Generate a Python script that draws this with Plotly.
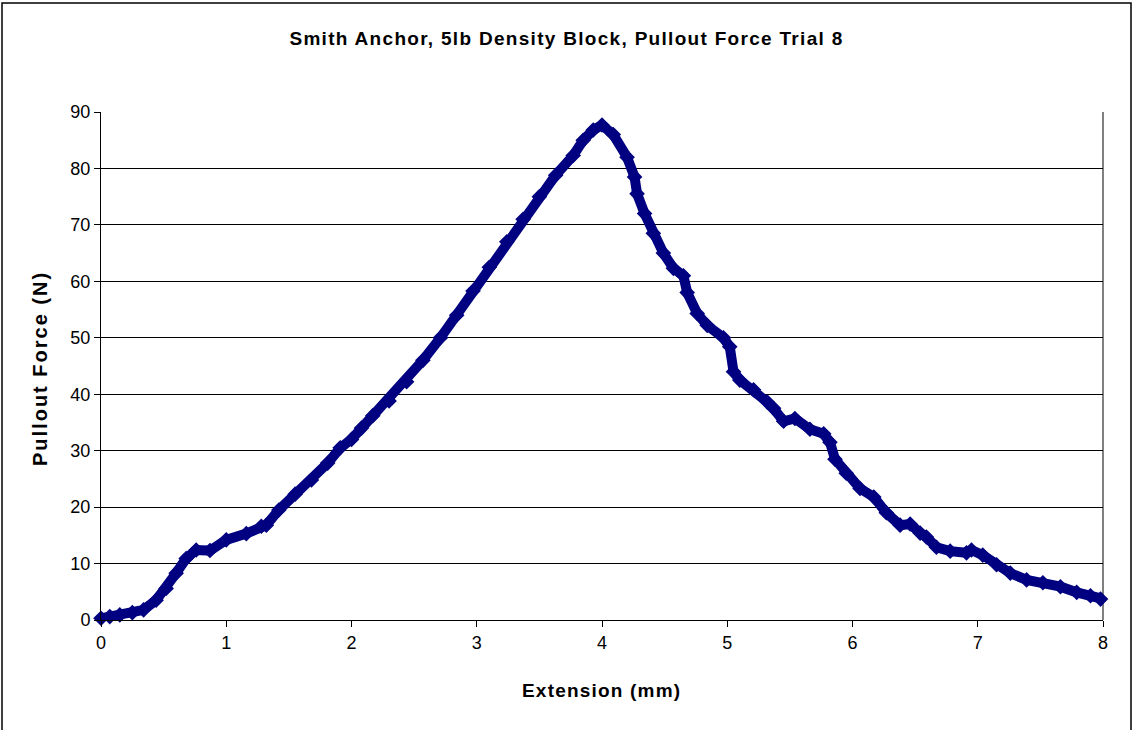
import plotly.graph_objects as go

# extension (mm) and pullout force (N)
extension = [0, 0.07, 0.15, 0.25, 0.34, 0.44, 0.52, 0.6, 0.68, 0.76, 0.87, 1.0,
             1.16, 1.28, 1.32, 1.42, 1.55, 1.68, 1.81, 1.91, 2.0, 2.08, 2.17, 2.3,
             2.44, 2.57, 2.71, 2.84, 2.97, 3.1, 3.24, 3.37, 3.5, 3.63, 3.77, 3.85,
             3.93, 4.0, 4.09, 4.2, 4.26, 4.28, 4.34, 4.41, 4.49, 4.57, 4.65, 4.68,
             4.76, 4.84, 4.97, 5.02, 5.05, 5.1, 5.21, 5.32, 5.37, 5.45, 5.54, 5.66,
             5.77, 5.82, 5.86, 5.95, 6.06, 6.17, 6.27, 6.38, 6.46, 6.54, 6.59, 6.67,
             6.78, 6.91, 6.95, 7.04, 7.15, 7.26, 7.39, 7.52, 7.66, 7.79, 7.9, 7.98, 8.04]
force = [0.3, 0.6, 0.9, 1.3, 1.8, 3.5, 5.6, 8.3, 10.9, 12.4, 12.3, 14.2,
         15.3, 16.6, 16.8, 19.5, 22.3, 24.8, 27.8, 30.5, 32.0, 34.0, 36.2, 38.8,
         42.2, 46.0, 50.0, 54.0, 58.3, 62.5, 67.0, 71.0, 75.0, 78.8, 82.3, 85.0,
         86.8, 87.7, 86.0, 82.0, 78.5, 75.5, 72.0, 68.5, 65.0, 62.3, 61.0, 58.0,
         54.3, 52.2, 50.0, 48.4, 44.0, 42.5, 40.8, 38.6, 37.5, 35.2, 35.7, 33.8,
         33.0, 31.5, 28.5, 26.0, 23.3, 21.8, 19.0, 16.8, 17.0, 15.4, 14.7, 12.9,
         12.2, 11.9, 12.4, 11.5, 9.8, 8.3, 7.1, 6.6, 5.9, 4.9, 4.3, 3.7, 3.5]

x_ticks = [0, 1, 2, 3, 4, 5, 6, 7, 8]
y_ticks = [0, 10, 20, 30, 40, 50, 60, 70, 80, 90]

navy = "#000080"
font = "Liberation Sans, Arial, sans-serif"


def spaced(text, px):
    return f"<span style='letter-spacing:{px}px'><b>{text}</b></span>"


fig = go.Figure()
fig.add_trace(go.Scatter(
    x=extension, y=force, mode="lines+markers",
    line=dict(color=navy, width=10),
    marker=dict(symbol="diamond", size=12, color=navy),
    showlegend=False, cliponaxis=False,
))

W, H = 1133, 730
ml, mr, mt, mb = 101, 30, 112, 110
pw, ph = W - ml - mr, H - mt - mb

fig.update_layout(
    width=W, height=H,
    margin=dict(l=ml, r=mr, t=mt, b=mb),
    paper_bgcolor="white", plot_bgcolor="white",
    font=dict(family=font, size=18, color="black"),
    title=dict(text=spaced("Smith Anchor, 5lb Density Block, Pullout Force Trial 8", 1.3),
               x=0.5, xanchor="center", y=1 - 38 / H, yanchor="middle",
               font=dict(size=19)),
    xaxis=dict(range=[0, 8], tickvals=x_ticks, showgrid=False, zeroline=False,
               showline=True, linecolor="black", linewidth=1,
               ticks="outside", ticklen=6, tickcolor="black",
               tickfont=dict(size=18)),
    yaxis=dict(range=[0, 90], tickvals=y_ticks, showgrid=True, gridcolor="black",
               gridwidth=1, zeroline=False,
               showline=True, linecolor="black", linewidth=1,
               ticks="outside", ticklen=6, tickcolor="black",
               tickfont=dict(size=18)),
)

# axis titles placed like the original
fig.add_annotation(text=spaced("Extension (mm)", 1.2), xref="paper", yref="paper",
                   x=(601 - ml) / pw, y=-(690 - (H - mb)) / ph, showarrow=False,
                   xanchor="center", yanchor="middle", font=dict(size=19))
fig.add_annotation(text=spaced("Pullout Force (N)", 2.0), xref="paper", yref="paper",
                   x=-(ml - 40) / pw, y=(H - mb - 369) / ph, showarrow=False, textangle=-90,
                   xanchor="center", yanchor="middle", font=dict(size=20))

# gray plot-area edge on the right, outer chart border
fig.add_shape(type="line", xref="paper", yref="paper", x0=1, x1=1, y0=0, y1=1,
              line=dict(color="#808080", width=2), layer="below")
fig.add_shape(type="rect", xref="paper", yref="paper",
              x0=(2 - ml) / pw, x1=(W - 2 - ml) / pw,
              y0=-(mb + 20) / ph, y1=1 + (mt - 3) / ph,
              line=dict(color="black", width=1.5))

fig.write_html("out.html", config={"displayModeBar": False},
               post_script="document.body.style.margin='0';")
